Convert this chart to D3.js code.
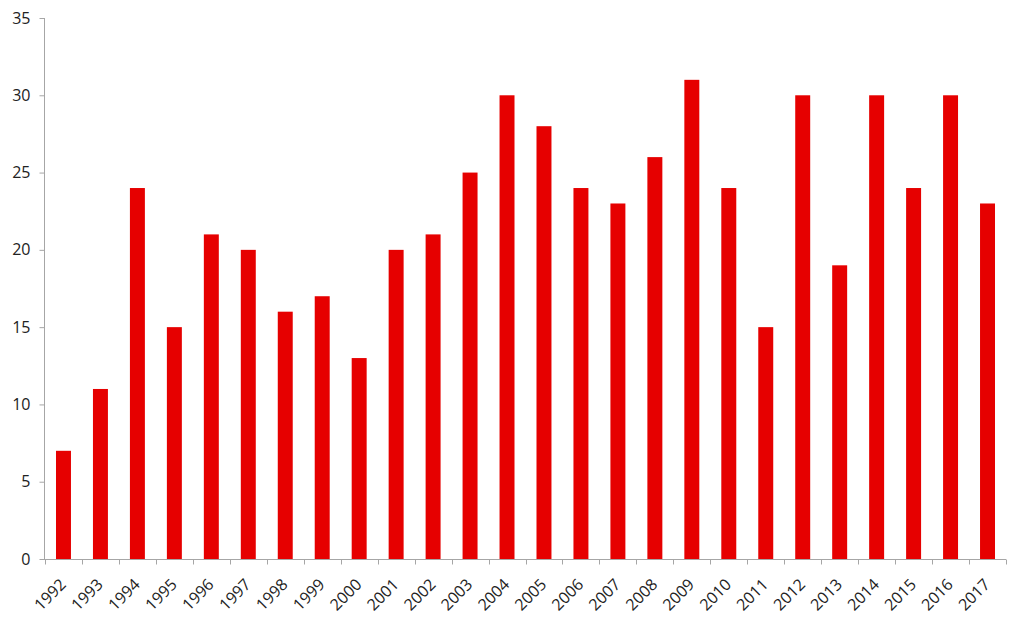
<!DOCTYPE html>
<html><head><meta charset="utf-8">
<script src="https://cdn.jsdelivr.net/npm/d3@7"></script>
<style>body{margin:0;background:#fff}text{font-family:"Open Sans",Calibri,sans-serif;fill:#222}</style>
</head><body><svg id="c" width="1024" height="620"></svg>
<script>
const years = ["1992","1993","1994","1995","1996","1997","1998","1999","2000","2001","2002","2003","2004","2005","2006","2007","2008","2009","2010","2011","2012","2013","2014","2015","2016","2017"];
const values = [7,11,24,15,21,20,16,17,13,20,21,25,30,28,24,23,26,31,24,15,30,19,30,24,30,23];
const yTicks = [0,5,10,15,20,25,30,35];

const svg = d3.select("#c");
const x = d3.scaleBand().domain(years).range([45,1006]).paddingInner(0.595).paddingOuter(0.2975);
const y = d3.scaleLinear().domain([0,35]).range([559,18]);
const axisColor = "#a6a6a6";

svg.append("g").selectAll("rect").data(values).join("rect")
  .attr("x",(d,i)=>x(years[i])).attr("width",x.bandwidth())
  .attr("y",d=>y(d)).attr("height",d=>y(0)-y(d)).attr("fill","#e60000");

// y axis
const ya = svg.append("g").attr("transform","translate(44.5,0)")
  .call(d3.axisLeft(y).tickValues(yTicks).tickSize(5).tickPadding(9));
ya.select(".domain").attr("stroke",axisColor).attr("d","M0,18V559");
ya.selectAll(".tick line").attr("stroke",axisColor);
ya.selectAll("text").style("font-size","16px").attr("fill","#222");

// x axis
const xg = svg.append("g").attr("transform","translate(0,559.5)");
xg.append("line").attr("x1",44).attr("x2",1006).attr("stroke",axisColor);
const step = x.step();
const bounds = d3.range(years.length+1).map(i=>45+i*step);
xg.selectAll("line.t").data(bounds).join("line").attr("class","t")
  .attr("x1",d=>Math.round(d)+0.5).attr("x2",d=>Math.round(d)+0.5).attr("y1",0).attr("y2",5).attr("stroke",axisColor);
xg.selectAll("text").data(years).join("text")
  .attr("transform",d=>`translate(${x(d)+x.bandwidth()/2+3.5},${26}) rotate(-45)`)
  .attr("text-anchor","end").style("font-size","16px").text(d=>d);
</script></body></html>
